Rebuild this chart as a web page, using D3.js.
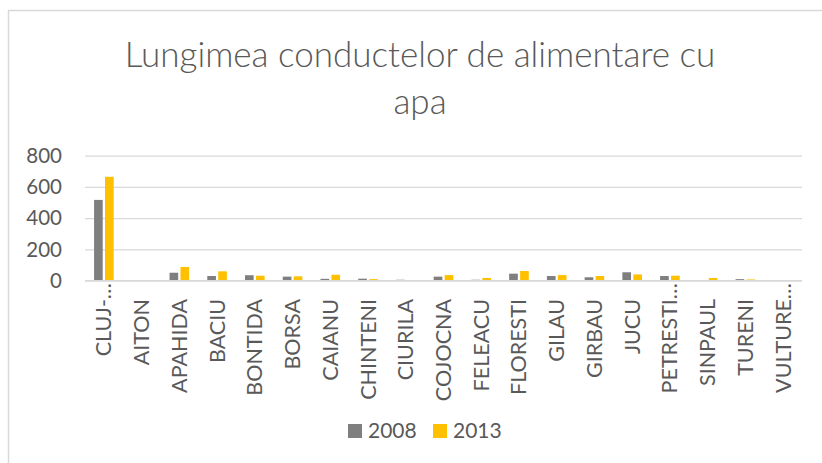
<!DOCTYPE html>
<html>
<head>
<meta charset="utf-8">
<script src="https://cdn.jsdelivr.net/npm/d3@7"></script>
<style>
  html, body { margin: 0; padding: 0; background: #fff; }
  svg { display: block; }
  text { font-family: Lato, "Open Sans", sans-serif; fill: #595959; }
</style>
</head>
<body>
<svg id="chart" width="822" height="463"></svg>
<script>
// Water supply pipe length per locality (km)
const categories = ["CLUJ-…", "AITON", "APAHIDA", "BACIU", "BONTIDA", "BORSA", "CAIANU", "CHINTENI",
  "CIURILA", "COJOCNA", "FELEACU", "FLORESTI", "GILAU", "GIRBAU", "JUCU", "PETRESTI…", "SINPAUL",
  "TURENI", "VULTURE…"];
const seriesNames = ["2008", "2013"];
const values2008 = [517, 3, 51, 30, 35, 26, 12, 13, 6, 26, 6, 45, 30, 22, 54, 30, 2, 10, 1];
const values2013 = [665, 0, 88, 60, 32, 28, 38, 10, 4, 36, 17, 62, 36, 30, 40, 32, 17, 8, 1];
const yTicks = [0, 200, 400, 600, 800];
const colors = ["#7f7f7f", "#ffc000"];
const titleLines = ["Lungimea conductelor de alimentare cu", "apa"];

const series = [values2008, values2013];
const svg = d3.select("#chart");

// chart frame
svg.append("rect")
  .attr("x", 8.5).attr("y", 10.5)
  .attr("width", 830).attr("height", 470)
  .attr("fill", "none").attr("stroke", "#d9d9d9").attr("stroke-width", 1.5);

// title
svg.append("g").selectAll("text").data(titleLines).join("text")
  .attr("x", 420).attr("y", (d, i) => 67 + i * 47)
  .attr("text-anchor", "middle")
  .attr("font-size", 35)
  .attr("font-weight", 300)
  .text(d => d);

const plot = { left: 85, right: 802, top: 155.7, bottom: 280.7 };

const y = d3.scaleLinear().domain([0, 800]).range([plot.bottom, plot.top]);
const x0 = d3.scaleBand().domain(categories).range([plot.left, plot.right])
  .paddingInner(0.48).paddingOuter(0.24);
const x1 = d3.scaleBand().domain(seriesNames).range([0, x0.bandwidth()]).paddingInner(0.21);

// gridlines
const yAxis = d3.axisLeft(y).tickValues(yTicks)
  .tickSize(-(plot.right - plot.left)).tickPadding(23);
const gy = svg.append("g").attr("transform", `translate(${plot.left},0)`).call(yAxis);
gy.select(".domain").remove();
gy.selectAll(".tick line").attr("stroke", "#d9d9d9").attr("stroke-width", 1.3);
gy.selectAll(".tick text").attr("font-size", 20.5).attr("fill", "#595959")
  .style("font-family", "Lato, sans-serif");

// bars
const groups = svg.append("g").selectAll("g").data(categories).join("g")
  .attr("transform", d => `translate(${x0(d)},0)`);
groups.selectAll("rect")
  .data((d, i) => seriesNames.map((s, j) => ({ s, v: series[j][i], c: colors[j] })))
  .join("rect")
  .attr("x", d => x1(d.s))
  .attr("width", x1.bandwidth())
  .attr("y", d => y(d.v))
  .attr("height", d => y(0) - y(d.v))
  .attr("fill", d => d.c);

// baseline
svg.append("line")
  .attr("x1", plot.left).attr("x2", plot.right)
  .attr("y1", y(0)).attr("y2", y(0))
  .attr("stroke", "#d9d9d9").attr("stroke-width", 1.3);

// category labels, rotated
svg.append("g").selectAll("text").data(categories).join("text")
  .attr("transform", d => {
    const cx = x0(d) + x0.bandwidth() / 2;
    const top = d.endsWith("…") ? 283 : 299;
    return `translate(${cx + 7.5},${top}) rotate(-90)`;
  })
  .attr("text-anchor", "end")
  .attr("font-size", 21.5)
  .text(d => d);

// legend
const legend = svg.append("g").selectAll("g").data(seriesNames).join("g")
  .attr("transform", (d, i) => `translate(${348 + i * 85},424)`);
legend.append("rect").attr("width", 14).attr("height", 14).attr("fill", (d, i) => colors[i]);
legend.append("text").attr("x", 20).attr("y", 14).attr("font-size", 21).text(d => d);
</script>
</body>
</html>
